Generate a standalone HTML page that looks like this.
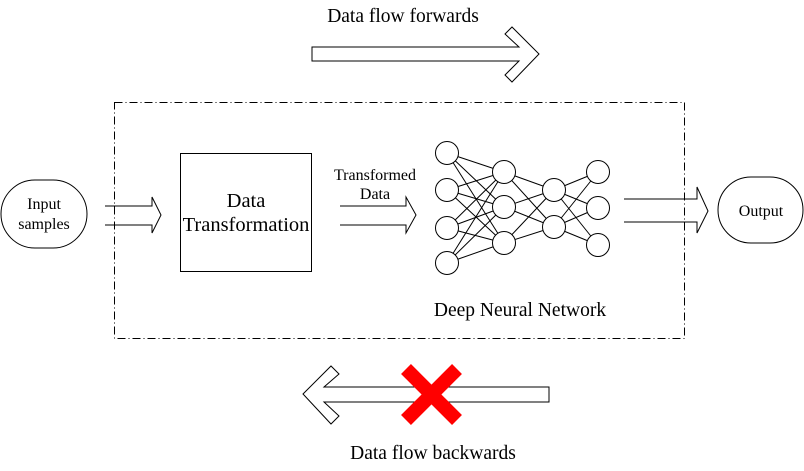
<!DOCTYPE html>
<html><head><style>html,body{margin:0;padding:0;background:#fff} text{font-family:"Liberation Serif","Times New Roman",serif}</style></head><body>
<svg width="804" height="466" viewBox="0 0 804 466" xmlns="http://www.w3.org/2000/svg">
<rect width="804" height="466" fill="#fff"/>
<text x="403" y="22" font-size="19.5" text-anchor="middle">Data flow forwards</text>
<polygon points="312,47 519,47 505,34 512,27 539,54 512,82 505,75 519,61 312,61" fill="#fff" stroke="#000" stroke-width="1"/>
<rect x="114.5" y="102.5" width="570" height="236" fill="none" stroke="#000" stroke-dasharray="8,3,1,3"/>
<rect x="1" y="180" width="86" height="68" rx="34" fill="#fff" stroke="#000"/>
<text x="44" y="209" font-size="16" text-anchor="middle">Input</text>
<text x="44" y="229" font-size="16" text-anchor="middle">samples</text>
<polyline points="105,206 152,206 152,197 161,215 152,233 152,225 105,225" fill="none" stroke="#000"/>
<rect x="180.5" y="153.5" width="131" height="118" fill="#fff" stroke="#000"/>
<text x="246" y="207" font-size="20.5" text-anchor="middle">Data</text>
<text x="246" y="231" font-size="20.5" text-anchor="middle">Transformation</text>
<text x="375" y="180" font-size="16" text-anchor="middle">Transformed</text>
<text x="375" y="199" font-size="16" text-anchor="middle">Data</text>
<polyline points="340,206 406,206 406,197 416,215 406,233 406,225 340,225" fill="none" stroke="#000"/>
<g stroke="#000" stroke-width="1">
<g>
<line x1="447" y1="153" x2="504" y2="172"/><line x1="447" y1="153" x2="504" y2="207"/><line x1="447" y1="153" x2="504" y2="243"/>
<line x1="447" y1="190" x2="504" y2="172"/><line x1="447" y1="190" x2="504" y2="207"/><line x1="447" y1="190" x2="504" y2="243"/>
<line x1="447" y1="228" x2="504" y2="172"/><line x1="447" y1="228" x2="504" y2="207"/><line x1="447" y1="228" x2="504" y2="243"/>
<line x1="447" y1="263" x2="504" y2="172"/><line x1="447" y1="263" x2="504" y2="207"/><line x1="447" y1="263" x2="504" y2="243"/>
<line x1="504" y1="172" x2="554" y2="190"/><line x1="504" y1="172" x2="554" y2="227"/>
<line x1="504" y1="207" x2="554" y2="190"/><line x1="504" y1="207" x2="554" y2="227"/>
<line x1="504" y1="243" x2="554" y2="190"/><line x1="504" y1="243" x2="554" y2="227"/>
<line x1="554" y1="190" x2="598" y2="172"/><line x1="554" y1="190" x2="598" y2="208"/><line x1="554" y1="190" x2="598" y2="245"/>
<line x1="554" y1="227" x2="598" y2="172"/><line x1="554" y1="227" x2="598" y2="208"/><line x1="554" y1="227" x2="598" y2="245"/>
</g>
<g fill="#fff">
<circle cx="447" cy="153" r="11.5"/><circle cx="447" cy="190" r="11.5"/><circle cx="447" cy="228" r="11.5"/><circle cx="447" cy="263" r="11.5"/>
<circle cx="504" cy="172" r="11.5"/><circle cx="504" cy="207" r="11.5"/><circle cx="504" cy="243" r="11.5"/>
<circle cx="554" cy="190" r="11.5"/><circle cx="554" cy="227" r="11.5"/>
<circle cx="598" cy="172" r="11.5"/><circle cx="598" cy="208" r="11.5"/><circle cx="598" cy="245" r="11.5"/>
</g>
</g>
<text x="520" y="316" font-size="19.5" text-anchor="middle">Deep Neural Network</text>
<polyline points="624,199 697,199 697,187 708,211 697,233 697,222 624,222" fill="none" stroke="#000"/>
<rect x="718" y="177" width="85" height="66" rx="33" fill="#fff" stroke="#000"/>
<text x="761" y="216" font-size="16" text-anchor="middle">Output</text>
<polygon points="303,394 331,366 339,374 324,387 549,387 549,402 324,402 339,416 331,424" fill="#fff" stroke="#000"/>
<g stroke="#f00" stroke-width="14"><line x1="406" y1="369" x2="457" y2="420"/><line x1="457" y1="369" x2="406" y2="420"/></g>
<text x="433" y="459" font-size="19.5" text-anchor="middle">Data flow backwards</text>
</svg>
</body></html>
